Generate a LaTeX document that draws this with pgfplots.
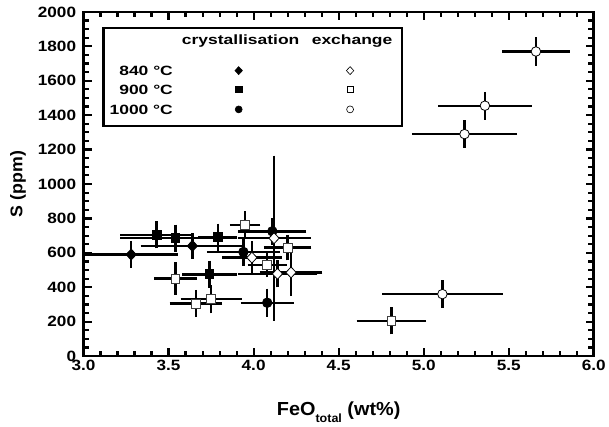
\documentclass[border=0pt]{standalone}
\usepackage{pgfplots}
\pgfplotsset{compat=1.18}
\usepackage{fontspec}
\setmainfont{Liberation Sans}
\newfontfamily\tickfont{Liberation Sans}[FakeStretch=1.15]
\newfontfamily\legfont{Liberation Sans}[FakeStretch=1.3]
\newfontfamily\labfont{Liberation Sans}[FakeStretch=1.05]

% x y ex ey
\pgfplotstableread{
x y ex ey
3.28 590 0.25 55
3.64 640 0.28 50
}\crysA
\pgfplotstableread{
x y ex ey
3.43 705 0.19 55
3.54 685 0.30 55
3.79 690 0.09 55
3.74 475 0.135 55
}\crysB
\pgfplotstableread{
x y ex ey
4.11 725 0.175 55
3.94 605 0.19 55
4.08 310 0.13 58
}\crysC
\pgfplotstableread{
x y ex ey
4.12 685 0.19 455
3.99 572 0.15 70
4.14 478 0.21 55
4.22 486 0.16 113
}\exchA
\pgfplotstableread{
x y ex ey
3.54 450 0.10 70
3.66 305 0.13 55
3.75 330 0.155 58
3.95 760 0.065 58
4.20 630 0.115 50
4.08 528 0.09 45
4.81 205 0.18 55
}\exchB
\pgfplotstableread{
x y ex ey
5.66 1770 0.175 58
5.36 1455 0.25 56
5.24 1290 0.285 55
5.11 360 0.33 56
}\exchC

\pgfplotsset{
  errs/.style={only marks, line width=2.4pt,
    error bars/.cd, x dir=both, x explicit, y dir=both, y explicit,
    error bar style={line width=2.4pt, black},
    error mark options={line width=2.4pt, mark size=4.2pt, black}},
}

\begin{document}
\begin{tikzpicture}
\begin{axis}[
  name=ax, scale only axis, width=513pt, height=346pt,
  xmin=3, xmax=6, ymin=0, ymax=2000,
  xtick={3,3.5,4,4.5,5,5.5,6}, ytick={0,200,400,600,800,1000,1200,1400,1600,1800,2000},
  minor x tick num=4, minor y tick num=3,
  axis line style={line width=2.6pt},
  tick style={black, line width=2.2pt},
  tickwidth=8pt, subtickwidth=5.5pt,
  tick label style={font=\tickfont\bfseries\fontsize{15}{15}\selectfont},
  yticklabel style={xshift=-4pt},
  xticklabel style={yshift=-1pt},
  xticklabels={3.0,3.5,4.0,4.5,5.0,5.5,6.0},
  yticklabels={0,200,400,600,800,1000,1200,1400,1600,1800,2000},
  xlabel={\labfont\bfseries\fontsize{19}{19}\selectfont FeO\raisebox{-7pt}{\fontsize{12}{12}\selectfont total} (wt\%)},
  ylabel={\labfont\bfseries\fontsize{17}{17}\selectfont S (ppm)},
  every axis x label/.style={at={(rel axis cs:0.5,0)}, anchor=base, yshift=-60pt},
  every axis y label/.style={at={(rel axis cs:0,0.5)}, xshift=-66pt, rotate=90, anchor=center},
]
\addplot[mark=diamond*, mark size=5.5pt, mark options={xscale=1.25, fill=black, draw=black, line width=0.8pt}, errs] table[x=x, y=y, x error=ex, y error=ey] {\crysA};
\addplot[mark=square*, mark size=4.5pt, mark options={fill=black, draw=black, line width=0.8pt}, errs] table[x=x, y=y, x error=ex, y error=ey] {\crysB};
\addplot[mark=*, mark size=4.8pt, mark options={fill=black, draw=black, line width=0.8pt}, errs] table[x=x, y=y, x error=ex, y error=ey] {\crysC};
\addplot[mark=diamond*, mark size=5.5pt, mark options={xscale=1.25, fill=white, draw=black, line width=0.8pt}, errs] table[x=x, y=y, x error=ex, y error=ey] {\exchA};
\addplot[mark=square*, mark size=4.5pt, mark options={fill=white, draw=black!75, line width=0.8pt}, errs] table[x=x, y=y, x error=ex, y error=ey] {\exchB};
\addplot[mark=*, mark size=4.8pt, mark options={fill=white, draw=black, line width=0.8pt}, errs] table[x=x, y=y, x error=ex, y error=ey] {\exchC};
\end{axis}
% page margins as in the reference
\path (ax.south west) +(-84pt,-65pt) (ax.north east) +(12pt,12pt);
% inward ticks on all four sides (0.1 on x, 50 on y)
\begin{scope}[shift={(ax.south west)}, line width=2pt]
  \foreach \i in {1,...,29} {
    \pgfmathsetmacro\L{mod(\i,5)==0 ? 8 : 5.5}
    \draw (\i*17.1pt,0) -- ++(0,\L pt);
    \draw (\i*17.1pt,346pt) -- ++(0,-\L pt);
  }
  \foreach \j in {1,...,39} {
    \pgfmathsetmacro\L{mod(\j,4)==0 ? 8 : 5.5}
    \draw (0,\j*8.65pt) -- ++(\L pt,0);
    \draw (513pt,\j*8.65pt) -- ++(-\L pt,0);
  }
\end{scope}
% legend box
\begin{scope}[shift={(ax.north west)}, font=\legfont\bfseries\fontsize{13.5}{13.5}\selectfont]
  \draw[line width=2.2pt] (20pt,-16pt) rectangle (320pt,-114.7pt);
  \node[anchor=base, inner sep=0pt] at (158pt,-33pt) {crystallisation};
  \node[anchor=base, inner sep=0pt] at (270pt,-33pt) {exchange};
  \node[anchor=base east, inner sep=0pt] at (90pt,-64pt) {840 °C};
  \node[anchor=base east, inner sep=0pt] at (90pt,-83pt) {900 °C};
  \node[anchor=base east, inner sep=0pt] at (90pt,-103pt) {1000 °C};
  \begin{scope}[shift={(156pt,-59pt)}, xscale=1.25]\pgfsetplotmarksize{4pt}\pgfsetlinewidth{0.6pt}\pgfuseplotmark{diamond*}\end{scope}
  \begin{scope}[shift={(268pt,-59pt)}, xscale=1.25, fill=white]\pgfsetplotmarksize{4pt}\pgfsetlinewidth{0.6pt}\pgfuseplotmark{diamond*}\end{scope}
  \begin{scope}[shift={(156pt,-78pt)}]\pgfsetplotmarksize{3.2pt}\pgfsetlinewidth{0.6pt}\pgfuseplotmark{square*}\end{scope}
  \begin{scope}[shift={(268pt,-78pt)}, fill=white]\pgfsetplotmarksize{3.2pt}\pgfsetlinewidth{0.6pt}\pgfuseplotmark{square*}\end{scope}
  \begin{scope}[shift={(156pt,-98pt)}]\pgfsetplotmarksize{3.5pt}\pgfsetlinewidth{0.6pt}\pgfuseplotmark{*}\end{scope}
  \begin{scope}[shift={(268pt,-98pt)}, fill=white]\pgfsetplotmarksize{3.5pt}\pgfsetlinewidth{0.6pt}\pgfuseplotmark{*}\end{scope}
\end{scope}
\end{tikzpicture}
\end{document}
